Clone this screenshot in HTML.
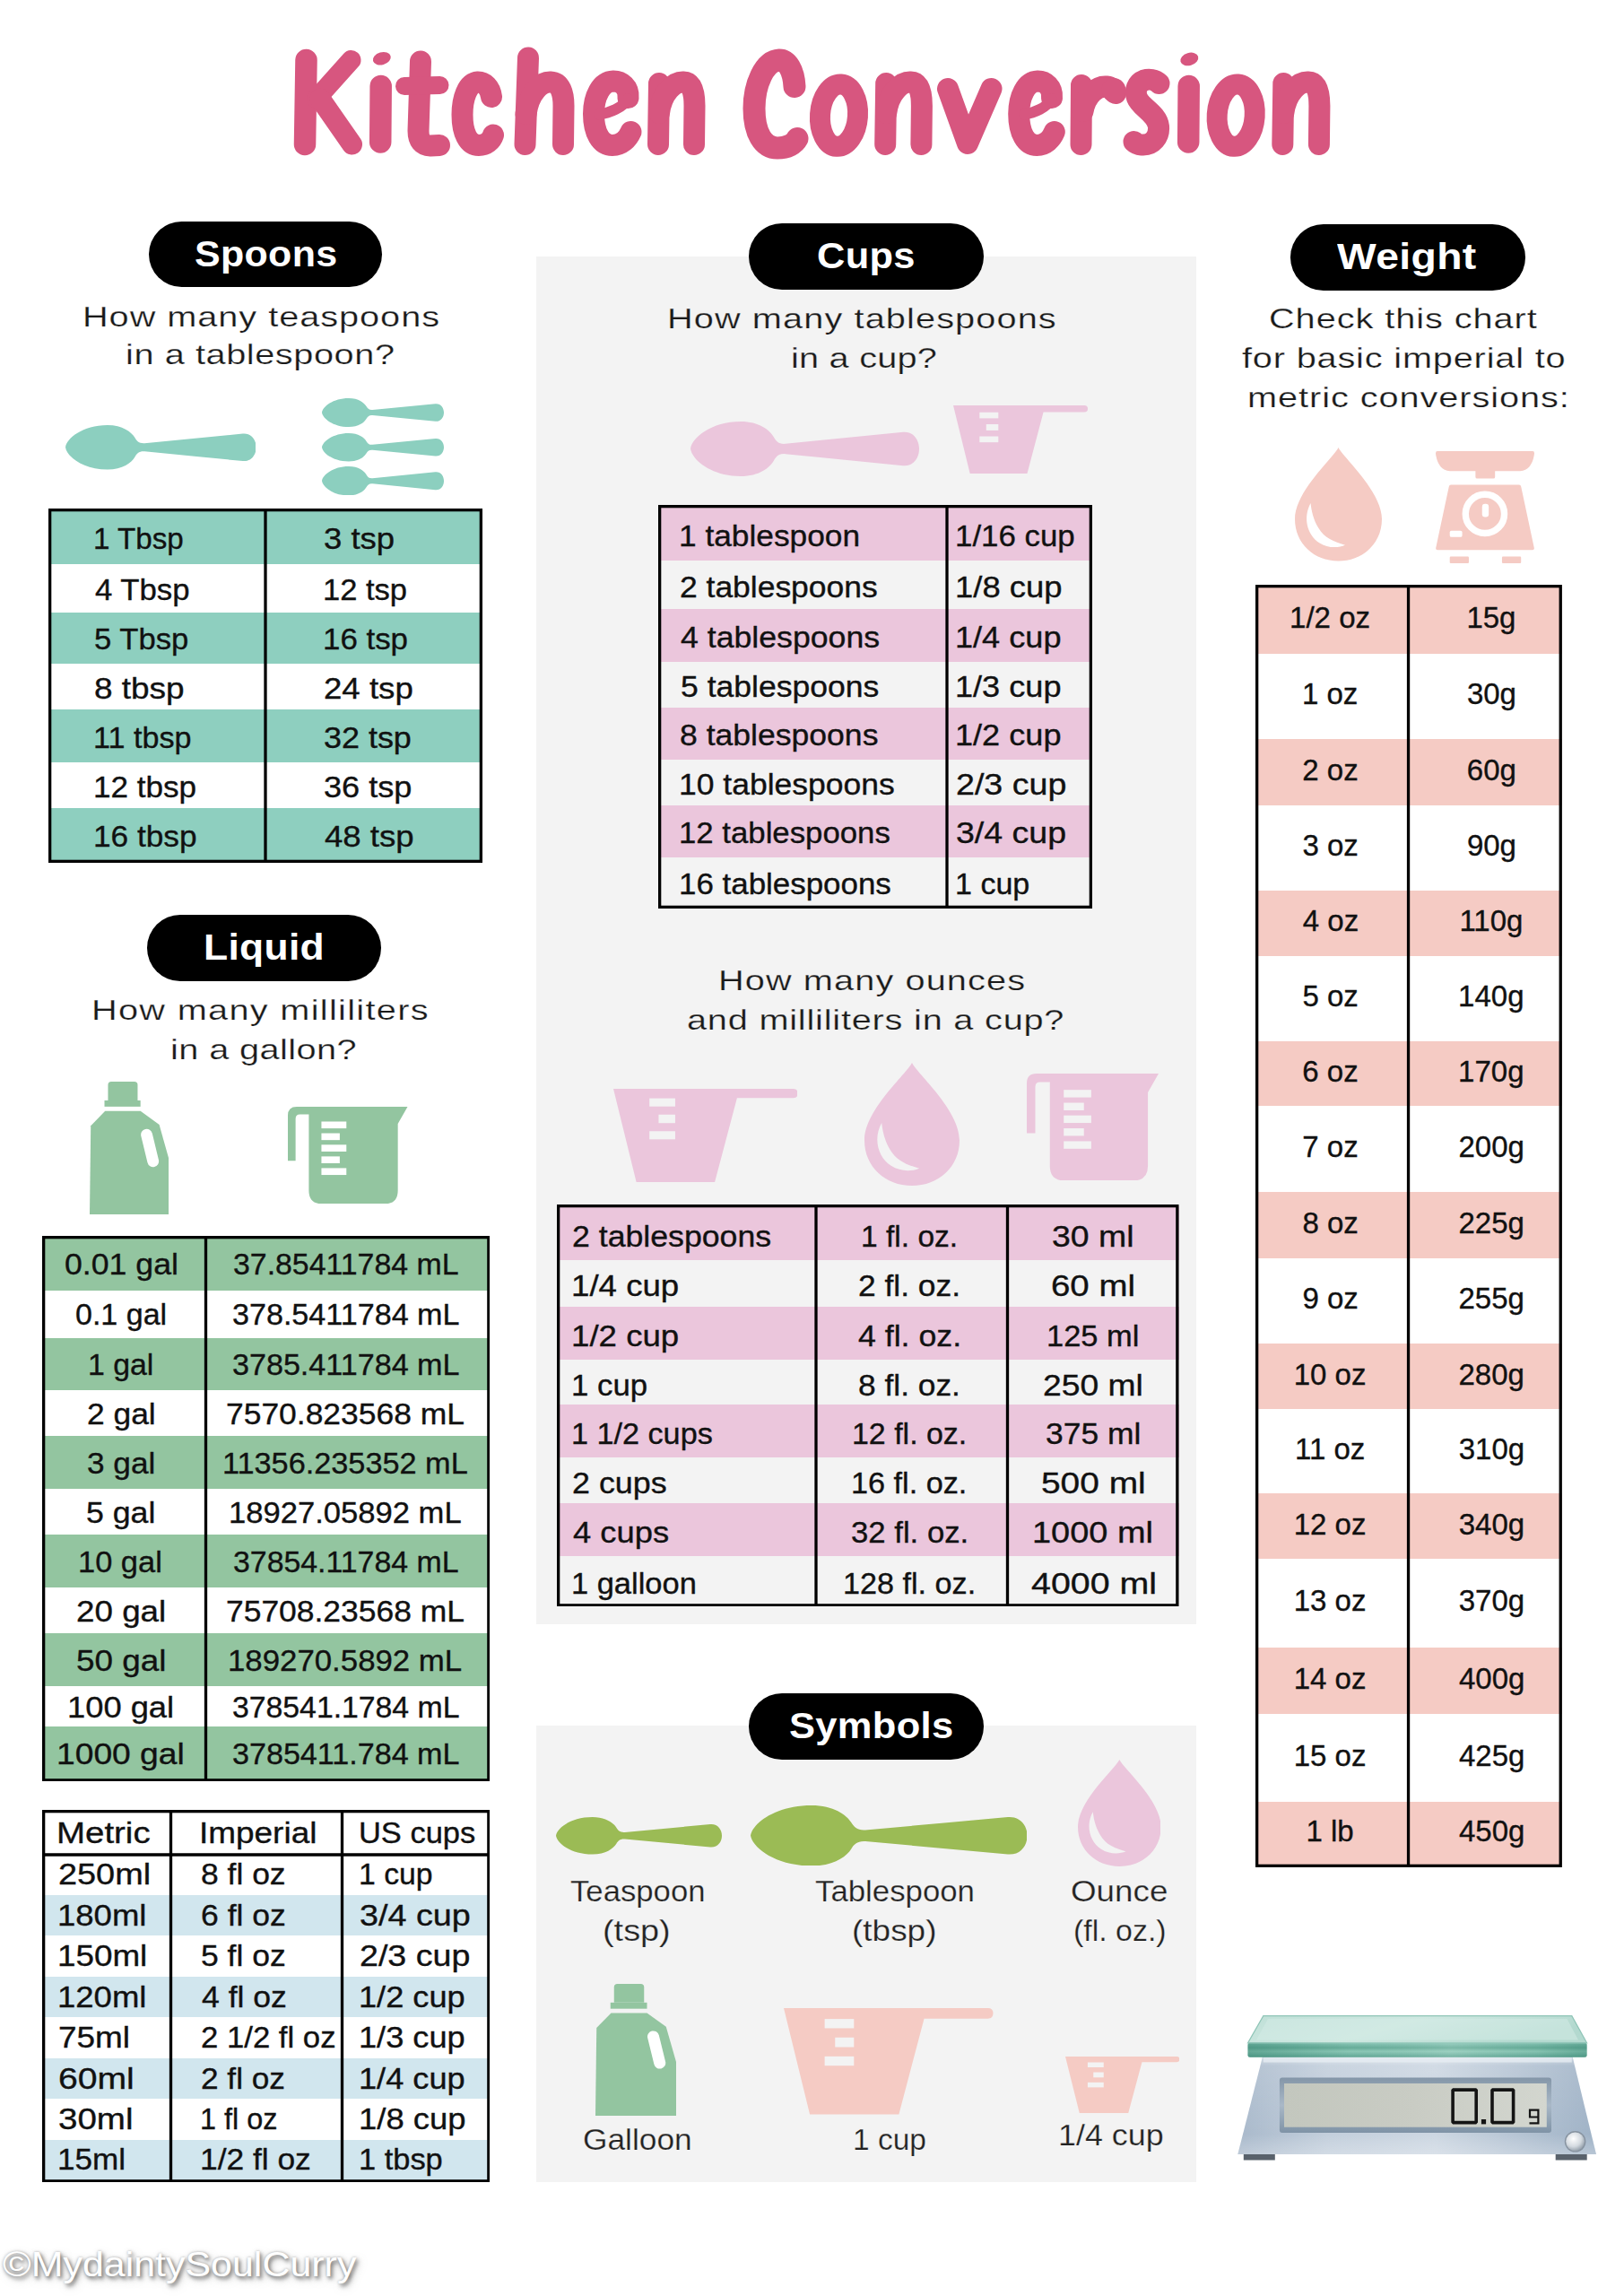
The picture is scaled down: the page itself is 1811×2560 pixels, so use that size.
<!DOCTYPE html>
<html><head><meta charset="utf-8"><title>Kitchen Conversion</title>
<style>
html,body{margin:0;padding:0;background:#fff;}
body{width:1811px;height:2560px;position:relative;overflow:hidden;font-family:"Liberation Sans",sans-serif;}
#pg{position:absolute;left:0;top:0;width:1811px;height:2560px;overflow:hidden;background:#fff;}
#pg div,#pg span.t,#pg svg{position:absolute;}
#pg div{box-sizing:content-box;}
span.t{white-space:nowrap;transform-origin:0 50%;display:block;}
span.w{-webkit-text-stroke:0.35px #111;}
span.tw{-webkit-text-stroke:0.25px #fff;}
span.tg{-webkit-text-stroke:0.25px #f3f3f3;}
</style></head><body><div id="pg">
<div style="left:598.0px;top:286.0px;width:735.5px;height:1525.0px;background:#f3f3f3;"></div>
<div style="left:598.0px;top:1924.0px;width:735.5px;height:508.5px;background:#f3f3f3;"></div>
<div style="left:166.0px;top:247.0px;width:260.0px;height:73.0px;background:#000;border-radius:36.5px;"></div>
<span class="t " style="left:216.7px;top:262.7px;font-size:40px;line-height:40px;color:#fff;font-weight:bold;letter-spacing:0.30px;transform:scaleX(1.0736);">Spoons</span>
<div style="left:164.0px;top:1020.0px;width:261.0px;height:74.0px;background:#000;border-radius:37.0px;"></div>
<span class="t " style="left:227.1px;top:1036.2px;font-size:40px;line-height:40px;color:#fff;font-weight:bold;letter-spacing:0.30px;transform:scaleX(1.1092);">Liquid</span>
<div style="left:835.0px;top:249.0px;width:261.5px;height:74.0px;background:#000;border-radius:37.0px;"></div>
<span class="t " style="left:911.0px;top:265.2px;font-size:40px;line-height:40px;color:#fff;font-weight:bold;letter-spacing:0.30px;transform:scaleX(1.0850);">Cups</span>
<div style="left:1439.0px;top:250.0px;width:261.5px;height:73.5px;background:#000;border-radius:36.8px;"></div>
<span class="t " style="left:1490.5px;top:266.0px;font-size:40px;line-height:40px;color:#fff;font-weight:bold;letter-spacing:0.30px;transform:scaleX(1.1573);">Weight</span>
<div style="left:835.0px;top:1887.5px;width:261.5px;height:74.0px;background:#000;border-radius:37.0px;"></div>
<span class="t " style="left:880.2px;top:1903.7px;font-size:40px;line-height:40px;color:#fff;font-weight:bold;letter-spacing:0.30px;transform:scaleX(1.0870);">Symbols</span>
<span class="t tw" style="left:91.8px;top:336.9px;font-size:32px;line-height:32px;color:#1a1a1a;letter-spacing:0.78px;transform:scaleX(1.2400);">How many teaspoons</span>
<span class="t tw" style="left:139.9px;top:379.4px;font-size:32px;line-height:32px;color:#1a1a1a;letter-spacing:0.47px;transform:scaleX(1.2400);">in a tablespoon?</span>
<span class="t tw" style="left:101.8px;top:1110.4px;font-size:32px;line-height:32px;color:#1a1a1a;letter-spacing:1.06px;transform:scaleX(1.2400);">How many milliliters</span>
<span class="t tw" style="left:189.9px;top:1154.4px;font-size:32px;line-height:32px;color:#1a1a1a;letter-spacing:0.33px;transform:scaleX(1.2400);">in a gallon?</span>
<span class="t tg" style="left:744.3px;top:339.4px;font-size:32px;line-height:32px;color:#1a1a1a;letter-spacing:0.90px;transform:scaleX(1.2400);">How many tablespoons</span>
<span class="t tg" style="left:882.4px;top:383.4px;font-size:32px;line-height:32px;color:#1a1a1a;letter-spacing:0.19px;transform:scaleX(1.2400);">in a cup?</span>
<span class="t tg" style="left:800.8px;top:1076.9px;font-size:32px;line-height:32px;color:#1a1a1a;letter-spacing:0.90px;transform:scaleX(1.2400);">How many ounces</span>
<span class="t tg" style="left:765.9px;top:1120.9px;font-size:32px;line-height:32px;color:#1a1a1a;letter-spacing:0.64px;transform:scaleX(1.2400);">and milliliters in a cup?</span>
<span class="t tw" style="left:1414.5px;top:339.4px;font-size:32px;line-height:32px;color:#1a1a1a;letter-spacing:0.77px;transform:scaleX(1.2400);">Check this chart</span>
<span class="t tw" style="left:1384.9px;top:383.4px;font-size:32px;line-height:32px;color:#1a1a1a;letter-spacing:0.67px;transform:scaleX(1.2400);">for basic imperial to</span>
<span class="t tw" style="left:1391.4px;top:426.9px;font-size:32px;line-height:32px;color:#1a1a1a;letter-spacing:0.76px;transform:scaleX(1.2400);">metric conversions:</span>
<div style="left:54.0px;top:569.0px;width:484.0px;height:60.0px;background:#8ecfbf;"></div>
<span class="t w" style="left:104.0px;top:584.1px;font-size:33px;line-height:33px;color:#111;transform:scaleX(1.0049);">1 Tbsp</span>
<span class="t w" style="left:361.0px;top:584.1px;font-size:33px;line-height:33px;color:#111;transform:scaleX(1.1046);">3 tsp</span>
<span class="t w" style="left:105.8px;top:640.8px;font-size:33px;line-height:33px;color:#111;transform:scaleX(1.0525);">4 Tbsp</span>
<span class="t w" style="left:359.9px;top:640.8px;font-size:33px;line-height:33px;color:#111;transform:scaleX(1.0449);">12 tsp</span>
<div style="left:54.0px;top:682.5px;width:484.0px;height:57.5px;background:#8ecfbf;"></div>
<span class="t w" style="left:105.1px;top:696.3px;font-size:33px;line-height:33px;color:#111;transform:scaleX(1.0493);">5 Tbsp</span>
<span class="t w" style="left:359.9px;top:696.3px;font-size:33px;line-height:33px;color:#111;transform:scaleX(1.0565);">16 tsp</span>
<span class="t w" style="left:104.8px;top:750.6px;font-size:33px;line-height:33px;color:#111;transform:scaleX(1.1191);">8 tbsp</span>
<span class="t w" style="left:360.7px;top:750.6px;font-size:33px;line-height:33px;color:#111;transform:scaleX(1.1098);">24 tsp</span>
<div style="left:54.0px;top:791.0px;width:484.0px;height:59.0px;background:#8ecfbf;"></div>
<span class="t w" style="left:103.9px;top:805.6px;font-size:33px;line-height:33px;color:#111;transform:scaleX(1.0346);">11 tbsp</span>
<span class="t w" style="left:361.1px;top:805.6px;font-size:33px;line-height:33px;color:#111;transform:scaleX(1.0884);">32 tsp</span>
<span class="t w" style="left:103.9px;top:860.6px;font-size:33px;line-height:33px;color:#111;transform:scaleX(1.0628);">12 tbsp</span>
<span class="t w" style="left:361.1px;top:860.6px;font-size:33px;line-height:33px;color:#111;transform:scaleX(1.0941);">36 tsp</span>
<div style="left:54.0px;top:901.0px;width:484.0px;height:59.0px;background:#8ecfbf;"></div>
<span class="t w" style="left:103.9px;top:915.6px;font-size:33px;line-height:33px;color:#111;transform:scaleX(1.0675);">16 tbsp</span>
<span class="t w" style="left:361.8px;top:915.6px;font-size:33px;line-height:33px;color:#111;transform:scaleX(1.1086);">48 tsp</span>
<svg style="left:54.00px;top:567.00px" width="484.00" height="395.00" viewBox="0 0 484.00 395.00"><rect x="1.65" y="1.65" width="480.70" height="391.70" fill="none" stroke="#000" stroke-width="3.3"/><line x1="242.00" y1="0" x2="242.00" y2="395.00" stroke="#000" stroke-width="3.3"/></svg>
<div style="left:46.5px;top:1380.0px;width:499.5px;height:58.5px;background:#93c5a0;"></div>
<span class="t w" style="left:71.6px;top:1393.3px;font-size:33px;line-height:33px;color:#111;transform:scaleX(1.0804);">0.01 gal</span>
<span class="t w" style="left:259.6px;top:1393.3px;font-size:33px;line-height:33px;color:#111;transform:scaleX(1.0252);">37.85411784 mL</span>
<span class="t w" style="left:83.9px;top:1449.1px;font-size:33px;line-height:33px;color:#111;transform:scaleX(1.0310);">0.1 gal</span>
<span class="t w" style="left:258.6px;top:1449.1px;font-size:33px;line-height:33px;color:#111;transform:scaleX(1.0334);">378.5411784 mL</span>
<div style="left:46.5px;top:1491.5px;width:499.5px;height:58.5px;background:#93c5a0;"></div>
<span class="t w" style="left:97.7px;top:1504.8px;font-size:33px;line-height:33px;color:#111;transform:scaleX(1.0251);">1 gal</span>
<span class="t w" style="left:258.6px;top:1504.8px;font-size:33px;line-height:33px;color:#111;transform:scaleX(1.0334);">3785.411784 mL</span>
<span class="t w" style="left:96.5px;top:1559.6px;font-size:33px;line-height:33px;color:#111;transform:scaleX(1.0717);">2 gal</span>
<span class="t w" style="left:252.2px;top:1559.6px;font-size:33px;line-height:33px;color:#111;transform:scaleX(1.0734);">7570.823568 mL</span>
<div style="left:46.5px;top:1601.0px;width:499.5px;height:59.0px;background:#93c5a0;"></div>
<span class="t w" style="left:96.8px;top:1614.6px;font-size:33px;line-height:33px;color:#111;transform:scaleX(1.0665);">3 gal</span>
<span class="t w" style="left:247.9px;top:1614.6px;font-size:33px;line-height:33px;color:#111;transform:scaleX(1.0383);">11356.235352 mL</span>
<span class="t w" style="left:96.3px;top:1669.6px;font-size:33px;line-height:33px;color:#111;transform:scaleX(1.0812);">5 gal</span>
<span class="t w" style="left:254.9px;top:1669.6px;font-size:33px;line-height:33px;color:#111;transform:scaleX(1.0483);">18927.05892 mL</span>
<div style="left:46.5px;top:1711.0px;width:499.5px;height:59.0px;background:#93c5a0;"></div>
<span class="t w" style="left:87.4px;top:1724.6px;font-size:33px;line-height:33px;color:#111;transform:scaleX(1.0433);">10 gal</span>
<span class="t w" style="left:259.6px;top:1724.6px;font-size:33px;line-height:33px;color:#111;transform:scaleX(1.0252);">37854.11784 mL</span>
<span class="t w" style="left:84.7px;top:1779.6px;font-size:33px;line-height:33px;color:#111;transform:scaleX(1.1146);">20 gal</span>
<span class="t w" style="left:252.2px;top:1779.6px;font-size:33px;line-height:33px;color:#111;transform:scaleX(1.0734);">75708.23568 mL</span>
<div style="left:46.5px;top:1821.0px;width:499.5px;height:59.0px;background:#93c5a0;"></div>
<span class="t w" style="left:84.8px;top:1834.6px;font-size:33px;line-height:33px;color:#111;transform:scaleX(1.1161);">50 gal</span>
<span class="t w" style="left:254.1px;top:1834.6px;font-size:33px;line-height:33px;color:#111;transform:scaleX(1.0545);">189270.5892 mL</span>
<span class="t w" style="left:74.8px;top:1886.6px;font-size:33px;line-height:33px;color:#111;transform:scaleX(1.1002);">100 gal</span>
<span class="t w" style="left:258.6px;top:1886.6px;font-size:33px;line-height:33px;color:#111;transform:scaleX(1.0230);">378541.1784 mL</span>
<div style="left:46.5px;top:1925.0px;width:499.5px;height:59.0px;background:#93c5a0;"></div>
<span class="t w" style="left:63.0px;top:1938.6px;font-size:33px;line-height:33px;color:#111;transform:scaleX(1.1276);">1000 gal</span>
<span class="t w" style="left:258.6px;top:1938.6px;font-size:33px;line-height:33px;color:#111;transform:scaleX(1.0334);">3785411.784 mL</span>
<svg style="left:46.50px;top:1377.50px" width="499.50" height="608.50" viewBox="0 0 499.50 608.50"><rect x="1.65" y="1.65" width="496.20" height="605.20" fill="none" stroke="#000" stroke-width="3.3"/><line x1="182.50" y1="0" x2="182.50" y2="608.50" stroke="#000" stroke-width="3.3"/></svg>
<span class="t w" style="left:63.4px;top:2026.6px;font-size:33px;line-height:33px;color:#111;transform:scaleX(1.1646);">Metric</span>
<span class="t w" style="left:222.1px;top:2026.6px;font-size:33px;line-height:33px;color:#111;transform:scaleX(1.1194);">Imperial</span>
<span class="t w" style="left:399.9px;top:2026.6px;font-size:33px;line-height:33px;color:#111;transform:scaleX(1.0437);">US cups</span>
<span class="t w" style="left:64.6px;top:2073.3px;font-size:33px;line-height:33px;color:#111;transform:scaleX(1.1470);">250ml</span>
<span class="t w" style="left:223.8px;top:2073.3px;font-size:33px;line-height:33px;color:#111;transform:scaleX(1.0744);">8 fl oz</span>
<span class="t w" style="left:400.0px;top:2073.3px;font-size:33px;line-height:33px;color:#111;transform:scaleX(1.0235);">1 cup</span>
<div style="left:46.5px;top:2112.9px;width:499.5px;height:45.4px;background:#d1e6ee;"></div>
<span class="t w" style="left:63.8px;top:2118.8px;font-size:33px;line-height:33px;color:#111;transform:scaleX(1.1064);">180ml</span>
<span class="t w" style="left:223.6px;top:2118.8px;font-size:33px;line-height:33px;color:#111;transform:scaleX(1.0765);">6 fl oz</span>
<span class="t w" style="left:401.0px;top:2118.8px;font-size:33px;line-height:33px;color:#111;transform:scaleX(1.1439);">3/4 cup</span>
<span class="t w" style="left:63.7px;top:2164.2px;font-size:33px;line-height:33px;color:#111;transform:scaleX(1.1158);">150ml</span>
<span class="t w" style="left:224.0px;top:2164.2px;font-size:33px;line-height:33px;color:#111;transform:scaleX(1.0759);">5 fl oz</span>
<span class="t w" style="left:400.6px;top:2164.2px;font-size:33px;line-height:33px;color:#111;transform:scaleX(1.1399);">2/3 cup</span>
<div style="left:46.5px;top:2203.8px;width:499.5px;height:45.4px;background:#d1e6ee;"></div>
<span class="t w" style="left:63.8px;top:2209.6px;font-size:33px;line-height:33px;color:#111;transform:scaleX(1.1064);">120ml</span>
<span class="t w" style="left:224.7px;top:2209.6px;font-size:33px;line-height:33px;color:#111;transform:scaleX(1.0769);">4 fl oz</span>
<span class="t w" style="left:399.8px;top:2209.6px;font-size:33px;line-height:33px;color:#111;transform:scaleX(1.0963);">1/2 cup</span>
<span class="t w" style="left:64.7px;top:2255.1px;font-size:33px;line-height:33px;color:#111;transform:scaleX(1.1190);">75ml</span>
<span class="t w" style="left:223.7px;top:2255.1px;font-size:33px;line-height:33px;color:#111;transform:scaleX(1.0518);">2 1/2 fl oz</span>
<span class="t w" style="left:399.8px;top:2255.1px;font-size:33px;line-height:33px;color:#111;transform:scaleX(1.0963);">1/3 cup</span>
<div style="left:46.5px;top:2294.7px;width:499.5px;height:45.4px;background:#d1e6ee;"></div>
<span class="t w" style="left:64.5px;top:2300.5px;font-size:33px;line-height:33px;color:#111;transform:scaleX(1.1855);">60ml</span>
<span class="t w" style="left:223.6px;top:2300.5px;font-size:33px;line-height:33px;color:#111;transform:scaleX(1.0671);">2 fl oz</span>
<span class="t w" style="left:399.8px;top:2300.5px;font-size:33px;line-height:33px;color:#111;transform:scaleX(1.0963);">1/4 cup</span>
<span class="t w" style="left:65.0px;top:2345.9px;font-size:33px;line-height:33px;color:#111;transform:scaleX(1.1680);">30ml</span>
<span class="t w" style="left:223.0px;top:2345.9px;font-size:33px;line-height:33px;color:#111;transform:scaleX(0.9811);">1 fl oz</span>
<span class="t w" style="left:399.8px;top:2345.9px;font-size:33px;line-height:33px;color:#111;transform:scaleX(1.1039);">1/8 cup</span>
<div style="left:46.5px;top:2385.6px;width:499.5px;height:45.4px;background:#d1e6ee;"></div>
<span class="t w" style="left:63.9px;top:2391.4px;font-size:33px;line-height:33px;color:#111;transform:scaleX(1.0625);">15ml</span>
<span class="t w" style="left:222.7px;top:2391.4px;font-size:33px;line-height:33px;color:#111;transform:scaleX(1.0712);">1/2 fl oz</span>
<span class="t w" style="left:399.9px;top:2391.4px;font-size:33px;line-height:33px;color:#111;transform:scaleX(1.0426);">1 tbsp</span>
<svg style="left:46.50px;top:2017.50px" width="499.50" height="415.50" viewBox="0 0 499.50 415.50"><rect x="1.65" y="1.65" width="496.20" height="412.20" fill="none" stroke="#000" stroke-width="3.3"/><line x1="143.50" y1="0" x2="143.50" y2="415.50" stroke="#000" stroke-width="3.3"/><line x1="334.50" y1="0" x2="334.50" y2="415.50" stroke="#000" stroke-width="3.3"/><line x1="0" y1="50.00" x2="499.50" y2="50.00" stroke="#000" stroke-width="3.3"/></svg>
<div style="left:734.0px;top:566.0px;width:484.0px;height:59.0px;background:#ebc6dc;"></div>
<span class="t w" style="left:757.4px;top:581.1px;font-size:33px;line-height:33px;color:#111;transform:scaleX(1.0689);">1 tablespoon</span>
<span class="t w" style="left:1064.9px;top:581.1px;font-size:33px;line-height:33px;color:#111;transform:scaleX(1.0565);">1/16 cup</span>
<span class="t w" style="left:758.2px;top:637.6px;font-size:33px;line-height:33px;color:#111;transform:scaleX(1.0739);">2 tablespoons</span>
<span class="t w" style="left:1064.8px;top:637.6px;font-size:33px;line-height:33px;color:#111;transform:scaleX(1.1039);">1/8 cup</span>
<div style="left:734.0px;top:679.0px;width:484.0px;height:58.5px;background:#ebc6dc;"></div>
<span class="t w" style="left:759.3px;top:693.8px;font-size:33px;line-height:33px;color:#111;transform:scaleX(1.0805);">4 tablespoons</span>
<span class="t w" style="left:1064.8px;top:693.8px;font-size:33px;line-height:33px;color:#111;transform:scaleX(1.0944);">1/4 cup</span>
<span class="t w" style="left:758.6px;top:748.8px;font-size:33px;line-height:33px;color:#111;transform:scaleX(1.0766);">5 tablespoons</span>
<span class="t w" style="left:1064.8px;top:748.8px;font-size:33px;line-height:33px;color:#111;transform:scaleX(1.0944);">1/3 cup</span>
<div style="left:734.0px;top:789.0px;width:484.0px;height:57.5px;background:#ebc6dc;"></div>
<span class="t w" style="left:758.4px;top:803.3px;font-size:33px;line-height:33px;color:#111;transform:scaleX(1.0775);">8 tablespoons</span>
<span class="t w" style="left:1064.8px;top:803.3px;font-size:33px;line-height:33px;color:#111;transform:scaleX(1.0944);">1/2 cup</span>
<span class="t w" style="left:757.3px;top:857.6px;font-size:33px;line-height:33px;color:#111;transform:scaleX(1.0750);">10 tablespoons</span>
<span class="t w" style="left:1065.6px;top:857.6px;font-size:33px;line-height:33px;color:#111;transform:scaleX(1.1399);">2/3 cup</span>
<div style="left:734.0px;top:897.5px;width:484.0px;height:58.5px;background:#ebc6dc;"></div>
<span class="t w" style="left:757.4px;top:912.3px;font-size:33px;line-height:33px;color:#111;transform:scaleX(1.0532);">12 tablespoons</span>
<span class="t w" style="left:1066.0px;top:912.3px;font-size:33px;line-height:33px;color:#111;transform:scaleX(1.1364);">3/4 cup</span>
<span class="t w" style="left:757.4px;top:969.1px;font-size:33px;line-height:33px;color:#111;transform:scaleX(1.0578);">16 tablespoons</span>
<span class="t w" style="left:1064.9px;top:969.1px;font-size:33px;line-height:33px;color:#111;transform:scaleX(1.0313);">1 cup</span>
<svg style="left:734.00px;top:563.00px" width="484.00" height="450.00" viewBox="0 0 484.00 450.00"><rect x="1.65" y="1.65" width="480.70" height="446.70" fill="none" stroke="#000" stroke-width="3.3"/><line x1="322.00" y1="0" x2="322.00" y2="450.00" stroke="#000" stroke-width="3.3"/></svg>
<div style="left:621.0px;top:1345.0px;width:693.5px;height:60.0px;background:#ebc6dc;"></div>
<span class="t w" style="left:638.2px;top:1361.6px;font-size:33px;line-height:33px;color:#111;transform:scaleX(1.0808);">2 tablespoons</span>
<span class="t w" style="left:959.7px;top:1361.6px;font-size:33px;line-height:33px;color:#111;transform:scaleX(1.0167);">1 fl. oz.</span>
<span class="t w" style="left:1173.3px;top:1361.6px;font-size:33px;line-height:33px;color:#111;transform:scaleX(1.1331);">30 ml</span>
<span class="t w" style="left:637.3px;top:1417.3px;font-size:33px;line-height:33px;color:#111;transform:scaleX(1.1106);">1/4 cup</span>
<span class="t w" style="left:957.2px;top:1417.3px;font-size:33px;line-height:33px;color:#111;transform:scaleX(1.0724);">2 fl. oz.</span>
<span class="t w" style="left:1171.8px;top:1417.3px;font-size:33px;line-height:33px;color:#111;transform:scaleX(1.1640);">60 ml</span>
<div style="left:621.0px;top:1456.5px;width:693.5px;height:59.5px;background:#ebc6dc;"></div>
<span class="t w" style="left:637.3px;top:1472.8px;font-size:33px;line-height:33px;color:#111;transform:scaleX(1.1106);">1/2 cup</span>
<span class="t w" style="left:957.3px;top:1472.8px;font-size:33px;line-height:33px;color:#111;transform:scaleX(1.0816);">4 fl. oz.</span>
<span class="t w" style="left:1166.7px;top:1472.8px;font-size:33px;line-height:33px;color:#111;transform:scaleX(1.0437);">125 ml</span>
<span class="t w" style="left:637.4px;top:1527.6px;font-size:33px;line-height:33px;color:#111;transform:scaleX(1.0535);">1 cup</span>
<span class="t w" style="left:957.4px;top:1527.6px;font-size:33px;line-height:33px;color:#111;transform:scaleX(1.0707);">8 fl. oz.</span>
<span class="t w" style="left:1162.9px;top:1527.6px;font-size:33px;line-height:33px;color:#111;transform:scaleX(1.1291);">250 ml</span>
<div style="left:621.0px;top:1566.0px;width:693.5px;height:59.0px;background:#ebc6dc;"></div>
<span class="t w" style="left:637.4px;top:1582.1px;font-size:33px;line-height:33px;color:#111;transform:scaleX(1.0359);">1 1/2 cups</span>
<span class="t w" style="left:949.7px;top:1582.1px;font-size:33px;line-height:33px;color:#111;transform:scaleX(1.0283);">12 fl. oz.</span>
<span class="t w" style="left:1165.8px;top:1582.1px;font-size:33px;line-height:33px;color:#111;transform:scaleX(1.0729);">375 ml</span>
<span class="t w" style="left:638.2px;top:1637.1px;font-size:33px;line-height:33px;color:#111;transform:scaleX(1.0860);">2 cups</span>
<span class="t w" style="left:949.2px;top:1637.1px;font-size:33px;line-height:33px;color:#111;transform:scaleX(1.0367);">16 fl. oz.</span>
<span class="t w" style="left:1160.7px;top:1637.1px;font-size:33px;line-height:33px;color:#111;transform:scaleX(1.1776);">500 ml</span>
<div style="left:621.0px;top:1676.0px;width:693.5px;height:59.0px;background:#ebc6dc;"></div>
<span class="t w" style="left:639.3px;top:1692.1px;font-size:33px;line-height:33px;color:#111;transform:scaleX(1.1010);">4 cups</span>
<span class="t w" style="left:948.9px;top:1692.1px;font-size:33px;line-height:33px;color:#111;transform:scaleX(1.0517);">32 fl. oz.</span>
<span class="t w" style="left:1150.9px;top:1692.1px;font-size:33px;line-height:33px;color:#111;transform:scaleX(1.1491);">1000 ml</span>
<span class="t w" style="left:637.4px;top:1748.6px;font-size:33px;line-height:33px;color:#111;transform:scaleX(1.0436);">1 galloon</span>
<span class="t w" style="left:939.7px;top:1748.6px;font-size:33px;line-height:33px;color:#111;transform:scaleX(1.0355);">128 fl. oz.</span>
<span class="t w" style="left:1149.5px;top:1748.6px;font-size:33px;line-height:33px;color:#111;transform:scaleX(1.1920);">4000 ml</span>
<svg style="left:621.00px;top:1342.50px" width="693.50" height="448.50" viewBox="0 0 693.50 448.50"><rect x="1.65" y="1.65" width="690.20" height="445.20" fill="none" stroke="#000" stroke-width="3.3"/><line x1="289.00" y1="0" x2="289.00" y2="448.50" stroke="#000" stroke-width="3.3"/><line x1="502.50" y1="0" x2="502.50" y2="448.50" stroke="#000" stroke-width="3.3"/></svg>
<div style="left:1399.7px;top:654.0px;width:341.9px;height:75.0px;background:#f5cbc4;"></div>
<span class="t w" style="left:1438.1px;top:672.3px;font-size:33px;line-height:33px;color:#111;">1/2 oz</span>
<span class="t w" style="left:1635.4px;top:672.3px;font-size:33px;line-height:33px;color:#111;">15g</span>
<span class="t w" style="left:1451.9px;top:757.3px;font-size:33px;line-height:33px;color:#111;">1 oz</span>
<span class="t w" style="left:1635.9px;top:757.3px;font-size:33px;line-height:33px;color:#111;">30g</span>
<div style="left:1399.7px;top:824.0px;width:341.9px;height:73.5px;background:#f5cbc4;"></div>
<span class="t w" style="left:1452.3px;top:841.5px;font-size:33px;line-height:33px;color:#111;">2 oz</span>
<span class="t w" style="left:1635.8px;top:841.5px;font-size:33px;line-height:33px;color:#111;">60g</span>
<span class="t w" style="left:1452.5px;top:925.8px;font-size:33px;line-height:33px;color:#111;">3 oz</span>
<span class="t w" style="left:1635.9px;top:925.8px;font-size:33px;line-height:33px;color:#111;">90g</span>
<div style="left:1399.7px;top:992.5px;width:341.9px;height:73.5px;background:#f5cbc4;"></div>
<span class="t w" style="left:1452.8px;top:1010.0px;font-size:33px;line-height:33px;color:#111;">4 oz</span>
<span class="t w" style="left:1627.4px;top:1010.0px;font-size:33px;line-height:33px;color:#111;">110g</span>
<span class="t w" style="left:1452.5px;top:1094.3px;font-size:33px;line-height:33px;color:#111;">5 oz</span>
<span class="t w" style="left:1626.1px;top:1094.3px;font-size:33px;line-height:33px;color:#111;">140g</span>
<div style="left:1399.7px;top:1161.0px;width:341.9px;height:72.3px;background:#f5cbc4;"></div>
<span class="t w" style="left:1452.3px;top:1177.9px;font-size:33px;line-height:33px;color:#111;">6 oz</span>
<span class="t w" style="left:1626.1px;top:1177.9px;font-size:33px;line-height:33px;color:#111;">170g</span>
<span class="t w" style="left:1452.3px;top:1262.1px;font-size:33px;line-height:33px;color:#111;">7 oz</span>
<span class="t w" style="left:1626.5px;top:1262.1px;font-size:33px;line-height:33px;color:#111;">200g</span>
<div style="left:1399.7px;top:1329.3px;width:341.9px;height:73.4px;background:#f5cbc4;"></div>
<span class="t w" style="left:1452.4px;top:1346.8px;font-size:33px;line-height:33px;color:#111;">8 oz</span>
<span class="t w" style="left:1626.5px;top:1346.8px;font-size:33px;line-height:33px;color:#111;">225g</span>
<span class="t w" style="left:1452.4px;top:1431.1px;font-size:33px;line-height:33px;color:#111;">9 oz</span>
<span class="t w" style="left:1626.5px;top:1431.1px;font-size:33px;line-height:33px;color:#111;">255g</span>
<div style="left:1399.7px;top:1498.0px;width:341.9px;height:73.4px;background:#f5cbc4;"></div>
<span class="t w" style="left:1442.7px;top:1515.5px;font-size:33px;line-height:33px;color:#111;">10 oz</span>
<span class="t w" style="left:1626.5px;top:1515.5px;font-size:33px;line-height:33px;color:#111;">280g</span>
<span class="t w" style="left:1444.0px;top:1599.0px;font-size:33px;line-height:33px;color:#111;">11 oz</span>
<span class="t w" style="left:1626.7px;top:1599.0px;font-size:33px;line-height:33px;color:#111;">310g</span>
<div style="left:1399.7px;top:1665.0px;width:341.9px;height:73.4px;background:#f5cbc4;"></div>
<span class="t w" style="left:1442.7px;top:1682.5px;font-size:33px;line-height:33px;color:#111;">12 oz</span>
<span class="t w" style="left:1626.7px;top:1682.5px;font-size:33px;line-height:33px;color:#111;">340g</span>
<span class="t w" style="left:1442.7px;top:1768.4px;font-size:33px;line-height:33px;color:#111;">13 oz</span>
<span class="t w" style="left:1626.7px;top:1768.4px;font-size:33px;line-height:33px;color:#111;">370g</span>
<div style="left:1399.7px;top:1836.9px;width:341.9px;height:73.9px;background:#f5cbc4;"></div>
<span class="t w" style="left:1442.7px;top:1854.6px;font-size:33px;line-height:33px;color:#111;">14 oz</span>
<span class="t w" style="left:1627.0px;top:1854.6px;font-size:33px;line-height:33px;color:#111;">400g</span>
<span class="t w" style="left:1442.7px;top:1940.9px;font-size:33px;line-height:33px;color:#111;">15 oz</span>
<span class="t w" style="left:1627.0px;top:1940.9px;font-size:33px;line-height:33px;color:#111;">425g</span>
<div style="left:1399.7px;top:2009.4px;width:341.9px;height:69.6px;background:#f5cbc4;"></div>
<span class="t w" style="left:1456.4px;top:2025.0px;font-size:33px;line-height:33px;color:#111;">1 lb</span>
<span class="t w" style="left:1627.0px;top:2025.0px;font-size:33px;line-height:33px;color:#111;">450g</span>
<svg style="left:1399.70px;top:651.50px" width="341.90" height="1430.00" viewBox="0 0 341.90 1430.00"><rect x="1.65" y="1.65" width="338.60" height="1426.70" fill="none" stroke="#000" stroke-width="3.3"/><line x1="170.55" y1="0" x2="170.55" y2="1430.00" stroke="#000" stroke-width="3.3"/></svg>
<span class="t tg" style="left:635.6px;top:2092.1px;font-size:33px;line-height:33px;color:#222;transform:scaleX(1.0517);">Teaspoon</span>
<span class="t tg" style="left:672.2px;top:2136.1px;font-size:33px;line-height:33px;color:#222;transform:scaleX(1.1475);">(tsp)</span>
<span class="t tg" style="left:909.3px;top:2092.1px;font-size:33px;line-height:33px;color:#222;transform:scaleX(1.0543);">Tablespoon</span>
<span class="t tg" style="left:950.3px;top:2136.1px;font-size:33px;line-height:33px;color:#222;transform:scaleX(1.1200);">(tbsp)</span>
<span class="t tg" style="left:1194.3px;top:2092.1px;font-size:33px;line-height:33px;color:#222;transform:scaleX(1.1145);">Ounce</span>
<span class="t tg" style="left:1196.7px;top:2136.1px;font-size:33px;line-height:33px;color:#222;transform:scaleX(1.0273);">(fl. oz.)</span>
<span class="t tg" style="left:649.5px;top:2368.6px;font-size:33px;line-height:33px;color:#222;transform:scaleX(1.0693);">Galloon</span>
<span class="t tg" style="left:951.0px;top:2368.6px;font-size:33px;line-height:33px;color:#222;transform:scaleX(1.0144);">1 cup</span>
<span class="t tg" style="left:1179.6px;top:2363.6px;font-size:33px;line-height:33px;color:#222;transform:scaleX(1.0867);">1/4 cup</span>
<svg style="left:0;top:0" width="1811" height="220" viewBox="0 0 1811 220">
<g fill="none" stroke="#d7567f" stroke-linecap="round" stroke-linejoin="round">
<path d="M341.5,67 L340,161" stroke-width="24.5"/>
<path d="M353,110 L391.5,67" stroke-width="22"/>
<path d="M357,110 L392.5,161" stroke-width="23"/>
<path d="M424.7,96 L424.2,158.5" stroke-width="24.5"/>
<path d="M469,68.5 L466.5,146 Q466.5,162 480,162.5 L490,162" stroke-width="24"/>
<path d="M451,96 L490.5,95" stroke-width="20"/>
<path d="M548,108 C546.5,97 540,91.5 533,91.5 C521,92.5 515.5,110 515.5,128 C515.5,148 522,162 534,162 C542,162 548,157 550,150.5" stroke-width="24"/>
<path d="M589,64.5 L585.5,161" stroke-width="24"/>
<path d="M586.5,127 C590,102 604,91 614,91.5 C625,92 628.5,104 628.5,118 L628,161" stroke-width="24"/>
<path d="M700.5,109 C701.5,97 693.0,90.5 684.0,90.5 C670.0,91 662.0,108 662.0,127 C662.0,148 670.0,162 683.0,162 C693.0,162 700.0,155 703.5,147" stroke-width="24"/>
<path d="M668.0,127.5 C680.0,126 695.0,120 700.0,110" stroke-width="12"/>
<path d="M735,93 L734,161" stroke-width="24"/>
<path d="M735,126 C738,103 752.0,91 762.0,91.5 C772.0,92 774.5,104 774.5,118 L774,161" stroke-width="24"/>
<path d="M886,96.5 C885,78 878,67 869,67 C852,68 841,95 841,121 C841,148 851,165 867,165 C878,165 886,160.5 889,154.5" stroke-width="25"/>
<path d="M988.2,93 L987.2,161" stroke-width="24"/>
<path d="M988.2,126 C991.2,103 1005.2900000000001,91 1015.34,91.5 C1025.39,92 1027.9,104 1027.9,118 L1027.4,161" stroke-width="24"/>
<path d="M1057,99 L1079,160 L1105.5,99" stroke-width="24"/>
<path d="M1173.0,109 C1173.9,97 1165.8,90.5 1157.2,90.5 C1143.9,91 1136.2,108 1136.2,127 C1136.2,148 1143.9,162 1156.3,162 C1165.8,162 1172.5,155 1175.8,147" stroke-width="24"/>
<path d="M1142.0,127.5 C1153.4,126 1167.7,120 1172.5,110" stroke-width="12"/>
<path d="M1206,95 L1205.5,161" stroke-width="24"/>
<path d="M1207.5,124 C1211,105 1224,95.5 1234,96.5 C1239,97 1243,100 1244,104" stroke-width="24"/>
<path d="M1292.5,93 C1288,88.5 1281,88 1276,89.5 C1268,92.5 1265,101 1268,109 C1272,120 1290,126 1292,141 C1293,153 1285,161.5 1275,161.5 C1270,161.5 1266.5,160 1264.5,158" stroke-width="24"/>
<path d="M1325.7,96 L1325.2,158.5" stroke-width="24.5"/>
<path d="M1431.3,93 L1430.3,161" stroke-width="24"/>
<path d="M1431.3,126 C1434.3,103 1448.57,91 1458.72,91.5 C1468.8700000000001,92 1471.4,104 1471.4,118 L1470.9,161" stroke-width="24"/>
</g>
<ellipse cx="425.8" cy="65.3" rx="10.2" ry="7" fill="#d7567f" transform="rotate(-16 425.8 65.3)"/>
<ellipse cx="935.5" cy="128.7" rx="21" ry="34.7" fill="none" stroke="#d7567f" stroke-width="23" transform="rotate(4 935.5 128.7)"/>
<circle cx="1242" cy="100.5" r="13.5" fill="#d7567f"/>
<ellipse cx="1326.3" cy="65.9" rx="10.2" ry="7" fill="#d7567f" transform="rotate(-16 1326.3 65.9)"/>
<ellipse cx="1378.2" cy="128.7" rx="21" ry="34.7" fill="none" stroke="#d7567f" stroke-width="23" transform="rotate(4 1378.2 128.7)"/>
</svg>
<svg style="left:72.5px;top:474.0px" width="212.7" height="49.6" viewBox="0 0 100 23.3" preserveAspectRatio="none"><path d="M0,11.6 C0.6,7 9,0 22,0 C30,0 34.6,3.6 36.4,6.6 C37.4,8.4 38.6,9.7 41.5,9.5 L93,4.5 C97.5,4.1 100,7.8 100,11.65 C100,15.5 97.5,19.2 93,18.8 L41.5,13.8 C38.6,13.6 37.4,14.9 36.4,16.7 C34.6,19.7 30,23.3 22,23.3 C9,23.3 0.6,16.2 0,11.6 Z" fill="#8ccfbf"/></svg>
<svg style="left:358.8px;top:444.0px" width="136.0" height="32.0" viewBox="0 0 100 23.3" preserveAspectRatio="none"><path d="M0,11.6 C0.6,7 9,0 22,0 C30,0 34.6,3.6 36.4,6.6 C37.4,8.4 38.6,9.7 41.5,9.5 L93,4.5 C97.5,4.1 100,7.8 100,11.65 C100,15.5 97.5,19.2 93,18.8 L41.5,13.8 C38.6,13.6 37.4,14.9 36.4,16.7 C34.6,19.7 30,23.3 22,23.3 C9,23.3 0.6,16.2 0,11.6 Z" fill="#8ccfbf"/></svg>
<svg style="left:358.8px;top:483.0px" width="136.0" height="31.5" viewBox="0 0 100 23.3" preserveAspectRatio="none"><path d="M0,11.6 C0.6,7 9,0 22,0 C30,0 34.6,3.6 36.4,6.6 C37.4,8.4 38.6,9.7 41.5,9.5 L93,4.5 C97.5,4.1 100,7.8 100,11.65 C100,15.5 97.5,19.2 93,18.8 L41.5,13.8 C38.6,13.6 37.4,14.9 36.4,16.7 C34.6,19.7 30,23.3 22,23.3 C9,23.3 0.6,16.2 0,11.6 Z" fill="#8ccfbf"/></svg>
<svg style="left:358.8px;top:520.0px" width="136.0" height="32.4" viewBox="0 0 100 23.3" preserveAspectRatio="none"><path d="M0,11.6 C0.6,7 9,0 22,0 C30,0 34.6,3.6 36.4,6.6 C37.4,8.4 38.6,9.7 41.5,9.5 L93,4.5 C97.5,4.1 100,7.8 100,11.65 C100,15.5 97.5,19.2 93,18.8 L41.5,13.8 C38.6,13.6 37.4,14.9 36.4,16.7 C34.6,19.7 30,23.3 22,23.3 C9,23.3 0.6,16.2 0,11.6 Z" fill="#8ccfbf"/></svg>
<svg style="left:99.7px;top:1206.0px" width="88.7" height="148.0" viewBox="0 0 360 600" preserveAspectRatio="none"><path d="M83,15 Q83,0 98,0 L202,0 Q217,0 217,15 L217,85 L83,85 Z" fill="#93c5a0"/><rect x="67" y="85" width="163" height="28" fill="#93c5a0"/><path d="M70,133 L230,133 L315,195 L360,355 L360,600 L0,600 L5,200 Z" fill="#93c5a0"/><line x1="258" y1="240" x2="287" y2="360" stroke="#fff" stroke-width="52" stroke-linecap="round"/></svg>
<svg style="left:321.4px;top:1234.0px" width="133.5" height="108.3" viewBox="0 0 542 440" preserveAspectRatio="none"><path d="M95,0 L542,0 L498,77 L498,380 Q498,440 438,440 L155,440 Q95,440 95,380 Z" fill="#93c5a0"/><path d="M100,0 L40,0 Q0,0 0,40 L0,245 L35,245 L35,55 Q35,35 55,35 L100,35 Z" fill="#93c5a0"/><rect x="152" y="67" width="113" height="31" fill="#fff"/><rect x="152" y="120" width="83" height="31" fill="#fff"/><rect x="152" y="172" width="113" height="31" fill="#fff"/><rect x="152" y="225" width="83" height="31" fill="#fff"/><rect x="152" y="278" width="113" height="31" fill="#fff"/></svg>
<svg style="left:770.0px;top:470.0px" width="255.0" height="61.0" viewBox="0 0 100 23.3" preserveAspectRatio="none"><path d="M0,11.6 C0.6,7 9,0 22,0 C30,0 34.6,3.6 36.4,6.6 C37.4,8.4 38.6,9.7 41.5,9.5 L93,4.5 C97.5,4.1 100,7.8 100,11.65 C100,15.5 97.5,19.2 93,18.8 L41.5,13.8 C38.6,13.6 37.4,14.9 36.4,16.7 C34.6,19.7 30,23.3 22,23.3 C9,23.3 0.6,16.2 0,11.6 Z" fill="#ebc6dc"/></svg>
<svg style="left:1062.5px;top:451.5px" width="150.0" height="76.0" viewBox="0 0 522 264" preserveAspectRatio="none"><path d="M0,0 L509,0 Q522,0 522,13 Q522,26 509,26 L350,26 L287,264 L65,264 Z" fill="#ebc6dc"/><rect x="102" y="27" width="73" height="23" fill="#f3f3f3"/><rect x="128" y="73" width="47" height="24" fill="#f3f3f3"/><rect x="102" y="120" width="73" height="23" fill="#f3f3f3"/></svg>
<svg style="left:683.8px;top:1213.6px" width="205.7" height="104.0" viewBox="0 0 522 264" preserveAspectRatio="none"><path d="M0,0 L509,0 Q522,0 522,13 Q522,26 509,26 L350,26 L287,264 L65,264 Z" fill="#ebc6dc"/><rect x="102" y="27" width="73" height="23" fill="#f3f3f3"/><rect x="128" y="73" width="47" height="24" fill="#f3f3f3"/><rect x="102" y="120" width="73" height="23" fill="#f3f3f3"/></svg>
<svg style="left:963.6px;top:1185.3px" width="106.0" height="137.0" viewBox="0 0 100 130" preserveAspectRatio="none"><path d="M50,0 C44,12 0,50 0,82 C0,110 22,130 50,130 C78,130 100,110 100,82 C100,50 56,12 50,0 Z" fill="#ebc6dc"/><path d="M18.1,63.6 C9,80 14,100 28,109 C38,115.5 50,115 57.7,111.7 C45,108 34,104 27,92 C21,82 19,72 18.1,63.6 Z" fill="#f3f3f3"/></svg>
<svg style="left:1144.9px;top:1196.7px" width="147.0" height="119.4" viewBox="0 0 542 440" preserveAspectRatio="none"><path d="M95,0 L542,0 L498,77 L498,380 Q498,440 438,440 L155,440 Q95,440 95,380 Z" fill="#ebc6dc"/><path d="M100,0 L40,0 Q0,0 0,40 L0,245 L35,245 L35,55 Q35,35 55,35 L100,35 Z" fill="#ebc6dc"/><rect x="152" y="67" width="113" height="31" fill="#f3f3f3"/><rect x="152" y="120" width="83" height="31" fill="#f3f3f3"/><rect x="152" y="172" width="113" height="31" fill="#f3f3f3"/><rect x="152" y="225" width="83" height="31" fill="#f3f3f3"/><rect x="152" y="278" width="113" height="31" fill="#f3f3f3"/></svg>
<svg style="left:1443.9px;top:499.2px" width="97.0" height="126.6" viewBox="0 0 100 130" preserveAspectRatio="none"><path d="M50,0 C44,12 0,50 0,82 C0,110 22,130 50,130 C78,130 100,110 100,82 C100,50 56,12 50,0 Z" fill="#f5cbc4"/><path d="M18.1,63.6 C9,80 14,100 28,109 C38,115.5 50,115 57.7,111.7 C45,108 34,104 27,92 C21,82 19,72 18.1,63.6 Z" fill="#fff"/></svg>
<svg style="left:1600.9px;top:503.3px" width="110.0" height="125.0" viewBox="0 0 595 676" preserveAspectRatio="none"><path d="M10,0 L585,0 Q595,0 595,12 C590,70 560,120 510,120 L85,120 C35,120 5,70 0,12 Q0,0 10,0Z" fill="#f5cbc4"/><path d="M240,118 L358,118 L358,155 Q358,165 348,165 L250,165 Q240,165 240,155 Z" fill="#f5cbc4"/><path d="M92,203 L503,203 Q513,203 515,213 L594,584 Q596,596 584,596 L11,596 Q-1,596 1,584 L80,213 Q82,203 92,203 Z" fill="#f5cbc4"/><circle cx="297" cy="378" r="117" fill="none" stroke="#fff" stroke-width="40"/><rect x="280" y="318" width="40" height="80" rx="18" fill="#fff"/><rect x="85" y="480" width="75" height="38" rx="10" fill="#fff"/><rect x="85" y="636" width="115" height="40" rx="6" fill="#f5cbc4"/><rect x="400" y="636" width="115" height="40" rx="6" fill="#f5cbc4"/></svg>
<svg style="left:620.0px;top:2026.0px" width="185.0" height="41.5" viewBox="0 0 100 23.3" preserveAspectRatio="none"><path d="M0,11.6 C0.6,7 9,0 22,0 C30,0 34.6,3.6 36.4,6.6 C37.4,8.4 38.6,9.7 41.5,9.5 L93,4.5 C97.5,4.1 100,7.8 100,11.65 C100,15.5 97.5,19.2 93,18.8 L41.5,13.8 C38.6,13.6 37.4,14.9 36.4,16.7 C34.6,19.7 30,23.3 22,23.3 C9,23.3 0.6,16.2 0,11.6 Z" fill="#9bbb55"/></svg>
<svg style="left:836.5px;top:2012.5px" width="308.5" height="67.5" viewBox="0 0 100 23.3" preserveAspectRatio="none"><path d="M0,11.6 C0.6,7 9,0 22,0 C30,0 34.6,3.6 36.4,6.6 C37.4,8.4 38.6,9.7 41.5,9.5 L93,4.5 C97.5,4.1 100,7.8 100,11.65 C100,15.5 97.5,19.2 93,18.8 L41.5,13.8 C38.6,13.6 37.4,14.9 36.4,16.7 C34.6,19.7 30,23.3 22,23.3 C9,23.3 0.6,16.2 0,11.6 Z" fill="#9bbb55"/></svg>
<svg style="left:1201.6px;top:1961.6px" width="92.7" height="119.0" viewBox="0 0 100 130" preserveAspectRatio="none"><path d="M50,0 C44,12 0,50 0,82 C0,110 22,130 50,130 C78,130 100,110 100,82 C100,50 56,12 50,0 Z" fill="#ebc6dc"/><path d="M18.1,63.6 C9,80 14,100 28,109 C38,115.5 50,115 57.7,111.7 C45,108 34,104 27,92 C21,82 19,72 18.1,63.6 Z" fill="#f3f3f3"/></svg>
<svg style="left:664.0px;top:2211.5px" width="90.0" height="147.0" viewBox="0 0 360 600" preserveAspectRatio="none"><path d="M83,15 Q83,0 98,0 L202,0 Q217,0 217,15 L217,85 L83,85 Z" fill="#93c5a0"/><rect x="67" y="85" width="163" height="28" fill="#93c5a0"/><path d="M70,133 L230,133 L315,195 L360,355 L360,600 L0,600 L5,200 Z" fill="#93c5a0"/><line x1="258" y1="240" x2="287" y2="360" stroke="#fff" stroke-width="52" stroke-linecap="round"/></svg>
<svg style="left:874.0px;top:2239.0px" width="233.5" height="118.5" viewBox="0 0 522 264" preserveAspectRatio="none"><path d="M0,0 L509,0 Q522,0 522,13 Q522,26 509,26 L350,26 L287,264 L65,264 Z" fill="#f5cbc4"/><rect x="102" y="27" width="73" height="23" fill="#f3f3f3"/><rect x="128" y="73" width="47" height="24" fill="#f3f3f3"/><rect x="102" y="120" width="73" height="23" fill="#f3f3f3"/></svg>
<svg style="left:1187.5px;top:2292.5px" width="127.5" height="63.5" viewBox="0 0 522 264" preserveAspectRatio="none"><path d="M0,0 L509,0 Q522,0 522,13 Q522,26 509,26 L350,26 L287,264 L65,264 Z" fill="#f5cbc4"/><rect x="102" y="27" width="73" height="23" fill="#f3f3f3"/><rect x="128" y="73" width="47" height="24" fill="#f3f3f3"/><rect x="102" y="120" width="73" height="23" fill="#f3f3f3"/></svg>
<svg style="left:1370px;top:2230px" width="430" height="190" viewBox="1370 2230 430 190">
<defs>
<linearGradient id="gTop" x1="0" y1="0" x2="1" y2="0.3"><stop offset="0" stop-color="#bfe0d7"/><stop offset="0.5" stop-color="#cfe8e1"/><stop offset="1" stop-color="#b3d9cf"/></linearGradient>
<linearGradient id="gEdge" x1="0" y1="0" x2="0" y2="1"><stop offset="0" stop-color="#8fcbbb"/><stop offset="0.35" stop-color="#69ae9b"/><stop offset="0.6" stop-color="#8fcab9"/><stop offset="1" stop-color="#62a896"/></linearGradient>
<linearGradient id="gBody" x1="0" y1="0" x2="1" y2="0"><stop offset="0" stop-color="#a9b9cb"/><stop offset="0.25" stop-color="#c3cfdc"/><stop offset="0.55" stop-color="#cdd7e2"/><stop offset="1" stop-color="#9fb2c6"/></linearGradient>
<linearGradient id="gBodyV" x1="0" y1="0" x2="0" y2="1"><stop offset="0" stop-color="#ffffff" stop-opacity="0.55"/><stop offset="0.12" stop-color="#ffffff" stop-opacity="0.1"/><stop offset="0.8" stop-color="#ffffff" stop-opacity="0"/><stop offset="1" stop-color="#ffffff" stop-opacity="0.25"/></linearGradient>
<linearGradient id="gBezel" x1="0" y1="0" x2="0" y2="1"><stop offset="0" stop-color="#8496a8"/><stop offset="0.5" stop-color="#a9b8c7"/><stop offset="1" stop-color="#7f93a6"/></linearGradient>
<linearGradient id="gLcd" x1="0" y1="0" x2="1" y2="0"><stop offset="0" stop-color="#c3c7be"/><stop offset="0.5" stop-color="#c9ccc4"/><stop offset="1" stop-color="#d3d6cf"/></linearGradient>
<linearGradient id="gEdgeH" x1="0" y1="0" x2="1" y2="0"><stop offset="0" stop-color="#2f7f6b" stop-opacity="0.45"/><stop offset="0.3" stop-color="#2f7f6b" stop-opacity="0.05"/><stop offset="0.6" stop-color="#ffffff" stop-opacity="0.12"/><stop offset="0.85" stop-color="#2f7f6b" stop-opacity="0.1"/><stop offset="1" stop-color="#2f7f6b" stop-opacity="0.4"/></linearGradient>
<radialGradient id="gKnob" cx="0.4" cy="0.35" r="0.7"><stop offset="0" stop-color="#ffffff"/><stop offset="0.6" stop-color="#d4dae0"/><stop offset="1" stop-color="#8e9aa6"/></radialGradient>
</defs>
<!-- feet -->
<rect x="1386.8" y="2401" width="35" height="7.5" fill="#59626c"/>
<rect x="1734.7" y="2401" width="35" height="7.5" fill="#59626c"/>
<!-- body -->
<path d="M1408.8,2290 L1752.8,2290 L1780,2402 L1380.3,2402 Z" fill="url(#gBody)"/>
<path d="M1408.8,2290 L1752.8,2290 L1780,2402 L1380.3,2402 Z" fill="url(#gBodyV)"/>
<!-- display -->
<rect x="1426.9" y="2316.6" width="303.1" height="61.3" rx="3" fill="url(#gBezel)"/>
<rect x="1432" y="2323" width="292.8" height="48.7" fill="url(#gLcd)"/>
<g fill="none" stroke="#141414" stroke-width="3.6" stroke-linejoin="bevel">
<rect x="1620.1" y="2330.1" width="26.1" height="36.5"/>
<rect x="1664" y="2330.1" width="23.6" height="36.5"/>
</g>
<rect x="1651.9" y="2363" width="5.2" height="5.4" fill="#141414"/>
<path d="M1715.4,2360.5 L1706,2360.5 L1706,2352.7 L1715.4,2352.7 L1715.4,2367.3 L1705.5,2367.3" fill="none" stroke="#141414" stroke-width="2.2"/>
<!-- knob -->
<circle cx="1756.6" cy="2387.8" r="11.8" fill="#8793a0"/>
<circle cx="1756.6" cy="2387.8" r="10.4" fill="url(#gKnob)"/>
<!-- glass plate -->
<path d="M1408.8,2247.6 L1752.8,2247.6 L1769.6,2278 L1391.5,2278 Z" fill="url(#gTop)"/>
<path d="M1414,2251 L1747.5,2251 L1760,2274.5 L1401,2274.5 Z" fill="#d3ebe5" opacity="0.55"/>
<rect x="1391.5" y="2277.5" width="378.1" height="16.2" rx="2.5" fill="url(#gEdge)"/>
<rect x="1391.5" y="2277.5" width="378.1" height="16.2" rx="2.5" fill="url(#gEdgeH)"/>
<path d="M1408.8,2247.6 L1752.8,2247.6 L1769.6,2278 L1391.5,2278 Z" fill="none" stroke="#8fc5b7" stroke-width="1.2"/>
<rect x="1408.8" y="2294" width="344" height="5.5" fill="#e6ecf2" opacity="0.8"/>
</svg>

<span class="t" style="left:3px;top:2503px;font-size:38px;line-height:44px;color:#fff;transform:scaleX(1.13);text-shadow:2px 3px 4px rgba(90,90,90,0.75),0 0 3px rgba(120,120,120,0.6),3px 4px 8px rgba(150,150,150,0.5);">©MydaintySoulCurry</span>

</div></body></html>
